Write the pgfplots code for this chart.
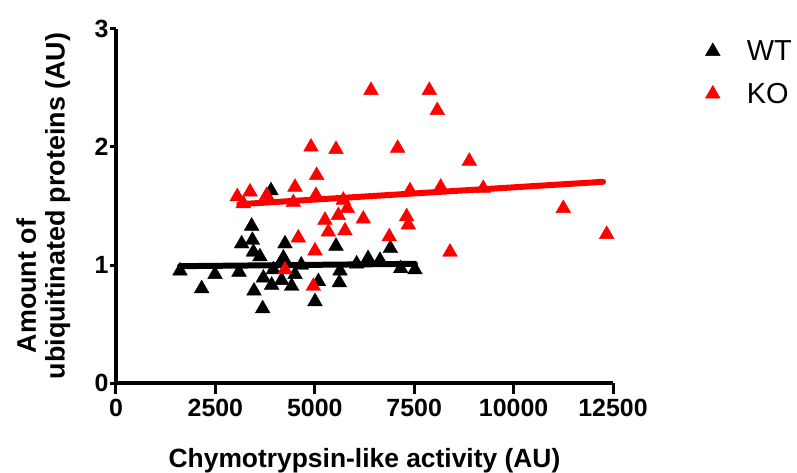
\documentclass[border=0pt]{standalone}
\usepackage{pgfplots}
\pgfplotsset{compat=1.18}
\usepackage{fontspec}
\setmainfont{Liberation Sans}
\begin{document}
\begin{tikzpicture}
\begin{axis}[
  scale only axis, width=497bp, height=354bp,
  xmin=0, xmax=12500, ymin=0, ymax=3,
  axis x line*=bottom, axis y line*=left,
  axis line style={line width=3.2bp},
  xtick={0,2500,5000,7500,10000,12500}, ytick={0,1,2,3},
  tick align=outside, major tick length=6bp,
  xtick style={/pgfplots/major tick length=11bp},
  tick style={line width=3bp, black},
  tick label style={font=\bfseries\fontsize{25}{25}\selectfont},
  xticklabel style={yshift=-7bp},
  yticklabel style={xshift=2bp},
  /pgf/number format/assume math mode=true,
  /pgf/number format/set thousands separator={},
  scaled x ticks=false,
  xlabel={Chymotrypsin-like activity (AU)},
  ylabel={Amount of\hspace*{160bp}\\ubiquitinated proteins (AU)},
  every axis x label/.style={at={(axis description cs:0.5,0)}, anchor=base, yshift=-84bp, font=\bfseries\fontsize{26.5}{26.5}\selectfont},
  every axis y label/.style={at={(axis description cs:-0.0915,0.5)}, rotate=90, anchor=south, inner sep=0pt, align=center, font=\bfseries\fontsize{27}{29}\selectfont},
  legend style={draw=none, fill=none, inner sep=0pt, outer sep=0pt, at={(axis description cs:1.186,0.967)}, anchor=north west, row sep=21bp, font=\fontsize{29}{29}\selectfont, nodes={inner sep=0pt}},
  legend cell align=left,
  legend image code/.code={\draw[#1] plot coordinates {(0bp,0bp)}; \path[draw=none] (0bp,0bp) -- (34bp,0bp);},
  clip=false,
]
\addplot[only marks, mark=triangle*, mark size=8.5bp, black, mark options={line width=0.4bp}] coordinates {
(1610,0.95) (2155,0.80) (2490,0.92) (3094,0.94) (3160,1.18) (3412,1.33) (3430,1.21)
(3455,1.11) (3620,1.07) (3471,0.78) (3689,0.63) (3705,0.89) (3898,1.63) (3957,0.96)
(3915,0.83) (4166,0.87) (4418,0.82) (4502,0.92) (4250,1.18) (4210,1.06) (4660,1.00)
(5005,0.69) (5090,0.86) (5533,1.16) (5634,0.95) (5617,0.85) (6053,1.01) (6340,1.055)
(6640,1.04) (6900,1.14) (7160,0.97) (7520,0.96)
};
\addlegendentry{WT}
\addplot[forget plot, black, line width=6bp, line cap=round] coordinates {(1610,0.99) (7520,1.01)};
\addplot[only marks, mark=triangle*, mark size=8.5bp, red, mark options={line width=0.4bp}] coordinates {
(3050,1.58) (3202,1.52) (3370,1.62) (3790,1.59) (4250,0.96) (4460,1.53) (4502,1.66)
(4585,1.23) (4904,2.00) (4963,0.82) (5005,1.12) (5030,1.59) (5047,1.76) (5256,1.38)
(5340,1.28) (5533,1.98) (5592,1.42) (5717,1.55) (5818,1.48) (5759,1.29) (6220,1.39)
(6413,2.48) (6873,1.24) (7084,1.99) (7310,1.41) (7352,1.34) (7394,1.63) (7880,2.48)
(8081,2.31) (8166,1.66) (8400,1.11) (8886,1.88) (9237,1.65) (11250,1.48) (12341,1.26)
};
\addlegendentry{KO}
\addplot[forget plot, red, line width=6bp, line cap=round] coordinates {(3100,1.515) (12250,1.705)};
\end{axis}
\pgfresetboundingbox
\path[use as bounding box] (-116bp,-90bp) rectangle (681bp,383bp);
\end{tikzpicture}
\end{document}
